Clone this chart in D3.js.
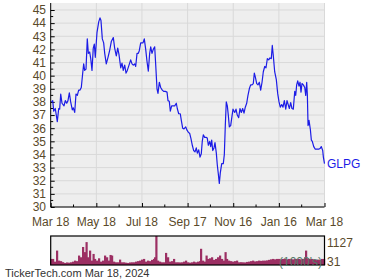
<!DOCTYPE html>
<html><head><meta charset="utf-8">
<script src="https://cdn.jsdelivr.net/npm/d3@7"></script>
<style>body{margin:0;background:#fff}svg{display:block}text{font-family:Arial,"Liberation Sans",sans-serif}</style>
</head><body>
<svg id="c" width="380" height="280"></svg>
<script>
// price series: day offset from Mar 18 2023, closing price
const priceDays = [0.8,2.7,4.0,6.1,8.8,10.7,12.0,13.4,15.1,17.8,19.5,21.4,23.1,24.9,26.7,28.9,30.2,32.1,33.8,35.6,37.4,39.2,40.9,42.8,44.1,45.4,47.2,48.9,50.3,52.1,53.5,55.2,56.9,58.3,59.6,61.9,64.2,65.9,67.2,69.0,70.8,72.2,74.3,76.6,78.9,81.0,83.7,85.5,87.7,89.6,91.3,93.6,95.3,97.0,98.9,100.7,102.4,104.7,106.9,108.7,110.4,112.3,113.6,115.4,117.1,118.4,120.3,122.0,123.4,125.1,127.0,128.7,130.5,132.3,133.7,135.4,137.1,139.0,140.4,142.1,143.4,145.2,147.0,149.2,151.0,153.2,155.5,156.8,158.5,159.9,161.7,163.9,165.8,167.9,169.2,171.1,173.2,174.6,176.4,178.2,180.5,182.2,183.9,185.8,187.5,189.3,191.1,192.9,194.6,196.0,197.8,199.6,201.3,202.6,204.0,205.8,207.6,209.3,210.7,212.5,213.9,215.2,216.6,218.3,219.6,221.4,222.7,224.0,225.4,226.7,228.6,230.7,232.1,233.4,234.7,236.1,237.4,238.8,240.6,242.3,243.7,246.0,247.7,249.4,251.3,253.0,254.8,256.6,258.4,260.1,262.0,263.7,265.5,267.3,269.1,270.8,272.2,273.5,275.4,277.1,278.9,280.7,282.5,284.2,286.1,287.8,289.6,291.4,293.1,294.9,296.2,297.6,299.4,301.6,303.4,305.2,306.9,308.8,310.5,312.3,314.2,315.9,317.2,319.0,320.8,322.5,324.3,326.2,327.5,328.8,330.2,331.9,333.3,334.6,335.9,337.7,339.6,340.9,342.2,343.1,344.0,345.3,347.1,348.4,349.7,351.6,353.7,356.0,358.2,360.0,361.7,363.6,364.5,366];
const priceValues = [38.0,38.1,37.3,37.5,36.5,37.5,37.45,38.6,37.9,37.7,38.1,37.9,38.1,38.7,38.0,37.4,37.55,37.2,38.6,38.5,38.9,38.9,39.1,40.2,40.9,40.4,40.5,42.8,41.7,41.8,41.3,40.4,42.1,42.4,41.4,43.3,44.1,44.4,44.2,42.8,42.5,41.7,40.9,41.4,41.95,42.6,42.9,42.1,41.5,42.1,41.6,40.6,40.95,40.4,40.8,40.2,40.4,40.8,41.2,40.9,40.8,40.9,40.7,41.7,41.7,41.9,42.5,42.5,42.5,42.8,42.0,41.1,40.35,41.7,42.2,41.7,42.0,42.2,40.8,39.0,38.65,39.5,39.1,38.9,38.8,38.8,38.75,38.1,38.05,37.3,37.7,37.7,37.7,37.9,37.5,37.1,37.1,36.6,36.0,35.95,36.1,35.85,35.7,35.6,35.2,34.7,34.3,34.2,34.5,34.1,34.35,33.8,34.05,35.0,35.5,35.3,35.3,35.25,34.7,35.0,34.6,35.1,34.3,34.5,34.9,34.1,33.2,32.55,31.8,32.6,33.3,33.3,34.0,36.2,38.0,37.7,37.0,36.1,36.2,36.9,37.45,37.2,37.45,37.0,36.8,37.5,37.2,37.5,37.15,37.6,37.9,38.5,39.0,39.3,39.3,39.4,40.2,39.9,39.4,39.3,39.5,38.9,39.5,40.3,40.7,40.6,41.3,41.2,41.35,41.3,42.3,41.5,40.3,39.7,38.65,38.0,37.6,37.8,37.6,38.1,37.45,38.1,37.85,37.5,37.95,37.5,37.45,38.8,38.5,39.3,39.6,39.2,39.5,38.75,39.4,39.3,39.1,38.5,39.5,38.5,36.2,36.6,35.9,35.1,35.0,34.6,34.4,34.4,34.4,34.45,34.6,34.3,33.8,33.3];
// volume (1000's) sampled across the year, x as pixel-derived day offsets
const volPx = [51,53,55,57,59,61,63,65,67,69,71,73,75,77,79,81,83,85,86.5,88,90,92,93.5,95,97,99,101,103,105,107,109,110.5,112,114,116,118,120,122,124,126,128,130,132,134,136,138,140,142,144,146,148,150,152,154,155,156.3,158,160,162,164,166,168,170,172,174,176,178,180,182,184,186,188,190,192,194,196,198,200,201,203,205,206.5,208,210,212,214,216,218,220,222,224,225.5,227,229,231,233,235,237,239,241,243,245,247,249,251,253,255,257,259,261,263,265,267,269,271,273,275,277,279,281,283,285,287,289,291,293,295,297,299,301,303,305,306,308,310,312,314,316,318,320,322,324];
const volValues = [236,236,130,560,170,150,110,80,100,90,105,130,170,150,367,300,700,500,890,300,560,170,430,236,170,260,131,170,367,300,170,390,367,131,105,105,210,105,105,90,80,100,105,105,131,150,170,210,236,131,170,150,200,236,300,1127,170,131,105,105,470,300,131,150,236,105,105,100,105,131,170,105,90,105,131,105,130,150,630,170,131,367,236,260,300,200,236,300,367,236,170,500,236,170,150,131,150,170,105,110,105,100,120,131,150,170,140,150,170,160,170,170,180,200,220,236,220,236,236,220,236,236,220,236,236,220,236,236,236,220,236,300,560,260,236,236,220,200,210,200,236,236];
const xTickLabels = ["Mar 18","May 18","Jul 18","Sep 17","Nov 16","Jan 16","Mar 18"];
const yTicks = [30,31,32,33,34,35,36,37,38,39,40,41,42,43,44,45];
const volLabels = ["1127","31"];
const tickerName = "GLPG";

const svg = d3.select("#c");
const L = 50.7, R = 324.5, T = 3, B = 207;
const x = d3.scaleLinear().domain([0,366]).range([L,R]);
const y = d3.scaleLinear().domain([30,45]).range([207,10]);
const txt = "#5a4a2a";
const tickDays = xTickLabels.map((d,i)=>i*61);

svg.append("rect").attr("x",L).attr("y",T).attr("width",R-L).attr("height",B-T).attr("fill","#eeeeee");
// grid
svg.append("g").selectAll("line").data(yTicks).join("line")
  .attr("x1",L).attr("x2",R).attr("y1",d=>y(d)).attr("y2",d=>y(d))
  .attr("stroke","#d9d9d9").attr("stroke-width",1);
svg.append("g").selectAll("line").data(tickDays.slice(1)).join("line")
  .attr("x1",d=>x(d)).attr("x2",d=>x(d)).attr("y1",T).attr("y2",B)
  .attr("stroke","#d9d9d9").attr("stroke-width",1);

// y axis
const ya = svg.append("g").attr("transform",`translate(${L},0)`)
  .call(d3.axisRight(y).tickValues(yTicks).tickSize(4).tickFormat(""));
ya.select(".domain").attr("d",`M0,${T}V${B}`).attr("stroke","#000");
ya.selectAll(".tick line").attr("stroke","#000");
const minorY = d3.range(30.5,45,1);
ya.append("g").selectAll("line").data(minorY).join("line")
  .attr("x1",0).attr("x2",2.5).attr("y1",d=>y(d)).attr("y2",d=>y(d)).attr("stroke","#000");
svg.append("g").selectAll("text").data(yTicks).join("text")
  .attr("x",46).attr("y",d=>y(d)).attr("dy","0.36em").attr("text-anchor","end")
  .attr("font-size",12).attr("fill",txt).text(d=>d);

// x axis
const xa = svg.append("g").attr("transform",`translate(0,${B})`)
  .call(d3.axisTop(x).tickValues(tickDays).tickSize(4).tickFormat(""));
xa.select(".domain").attr("d",`M${L},0H${R}`).attr("stroke","#000");
xa.selectAll(".tick line").attr("stroke","#000");
xa.append("g").selectAll("line").data(tickDays.slice(0,-1).map(d=>d+30.5)).join("line")
  .attr("x1",d=>x(d)).attr("x2",d=>x(d)).attr("y1",0).attr("y2",-2.5).attr("stroke","#000");
svg.append("g").selectAll("text").data(xTickLabels).join("text")
  .attr("x",(d,i)=>x(tickDays[i])).attr("y",226).attr("text-anchor","middle")
  .attr("font-size",12).attr("fill",txt).text(d=>d);

// price line
const pts = priceDays.map((d,i)=>[d,priceValues[i]]);
svg.append("path").datum(pts)
  .attr("d",d3.line().x(d=>x(d[0])).y(d=>y(d[1])))
  .attr("fill","none").attr("stroke","#1c1ce6").attr("stroke-width",1.2).attr("stroke-linejoin","round");
svg.append("text").attr("x",327).attr("y",y(priceValues[priceValues.length-1])).attr("dy","0.36em")
  .attr("font-size",12).attr("fill","#1c1ce6").text(tickerName);

// volume panel
const VT = 236, VB = 265;
const yv = d3.scaleLinear().domain([0,1127]).range([VB,VT]);
const xp = d3.scaleLinear().domain([L,R]).range([0,366]); // pixel-read positions -> days
svg.append("rect").attr("x",L).attr("y",VT).attr("width",R-L).attr("height",VB-VT).attr("fill","#eeeeee");
svg.append("g").selectAll("rect").data(volValues).join("rect")
  .attr("x",(d,i)=>x(xp(volPx[i]))-1).attr("width",2.2)
  .attr("y",d=>yv(d)).attr("height",d=>VB-yv(d)).attr("fill","#9c2f63");
svg.append("rect").attr("x",L).attr("y",VT).attr("width",R-L).attr("height",VB-VT)
  .attr("fill","none").attr("stroke","#000").attr("stroke-width",1.2);
svg.append("text").attr("x",322).attr("y",262).attr("dy","0.36em").attr("text-anchor","end")
  .attr("font-size",12).attr("fill","#557a6a").text("(1000's)");
svg.append("text").attr("x",327).attr("y",243).attr("dy","0.36em").attr("font-size",12).attr("fill",txt).text(volLabels[0]);
svg.append("text").attr("x",327).attr("y",262).attr("dy","0.36em").attr("font-size",12).attr("fill",txt).text(volLabels[1]);

svg.append("text").attr("x",5).attr("y",277).attr("font-size",11).attr("fill","#333").text("TickerTech.com  Mar 18, 2024");
</script>
</body></html>
